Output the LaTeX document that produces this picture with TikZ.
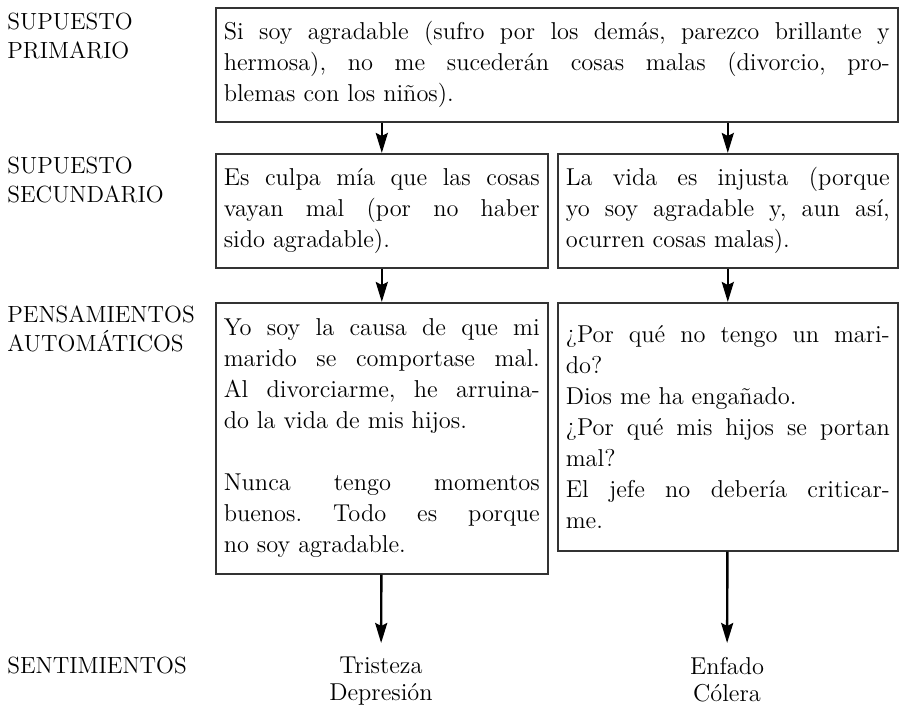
\documentclass[tikz,border=0pt]{standalone}
\usetikzlibrary{arrows.meta}
\setlength{\parindent}{0pt}
\frenchspacing
\tikzset{
  box/.style={draw=black!80, line width=0.8pt, anchor=north west, inner xsep=4pt, inner ysep=5pt, align=justify, font=\fontsize{12.2}{15.5}\selectfont},
  lab/.style={anchor=north west, inner sep=0pt, align=left, font=\fontsize{11.7}{14.5}\selectfont},
  feel/.style={anchor=north, inner sep=7pt, align=center, font=\fontsize{12.2}{13.5}\selectfont},
  >={Stealth[length=10pt,width=6pt,inset=1.5pt]}
}

\begin{document}
\begin{tikzpicture}[x=0.5pt, y=0.5pt]
        \useasboundingbox (0, 0) rectangle (899, 709);
        \node [lab] (SP) at (7, 696) {SUPUESTO\\PRIMARIO}; 
        \node [lab] (SS) at (7, 552) {SUPUESTO\\SECUNDARIO}; 
        \node [lab] (PA) at (7, 404) {PENSAMIENTOS\\AUTOMÁTICOS}; 
        \node [lab] (SE) at (7, 52) {SENTIMIENTOS}; 
        \node [box, text width=333pt, minimum height=57pt] (PT) at (215, 702) {Si soy agradable (sufro por los demás, parezco brillante y\linebreak hermosa), no me sucederán cosas malas (divorcio, pro-\linebreak blemas con los niños).}; 
        \node [box, text width=158pt, minimum height=57pt] (LS) at (215, 556) {Es culpa mía que las cosas\linebreak vayan mal (por no haber\linebreak sido agradable).}; 
        \node [box, text width=162pt, minimum height=57pt] (RS) at (557, 556) {La vida es injusta (porque\linebreak yo soy agradable y, aun así,\linebreak ocurren cosas malas).}; 
        \node [box, text width=158pt, minimum height=135.5pt] (LA) at (215, 407) {Yo soy la causa de que mi\linebreak marido se comportase mal.\linebreak Al divorciarme, he arruina-\linebreak do la vida de mis hijos.\\[15.5pt] Nunca tengo momentos\linebreak buenos. Todo es porque\linebreak no soy agradable.}; 
        \node [box, text width=162pt, minimum height=124pt] (RA) at (557, 407) {¿Por qué no tengo un mari-\linebreak do?\\ Dios me ha engañado.\\ ¿Por qué mis hijos se portan\linebreak mal?\\ El jefe no debería criticar-\linebreak me.}; 
        \node [feel] (LF) at (381, 66) {Tristeza\\Depresión}; 
        \node [feel] (RF) at (727, 66) {Enfado\\Cólera}; 
        \draw [->, line width=1.2pt] (PT.south -| LS.north) -- (LS.north); 
        \draw [->, line width=1.2pt] (PT.south -| RS.north) -- (RS.north); 
        \draw [->, line width=1.2pt] (LS) -- (LA); 
        \draw [->, line width=1.2pt] (RS) -- (RA); 
        \draw [->, line width=1.2pt] (LA) -- (LF); 
        \draw [->, line width=1.2pt] (RA) -- (RF); 
\end{tikzpicture}
\end{document}
